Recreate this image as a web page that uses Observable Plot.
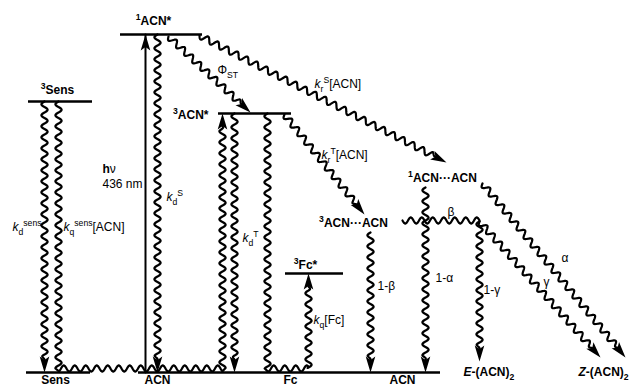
<!DOCTYPE html>
<html><head><meta charset="utf-8">
<script src="https://cdn.jsdelivr.net/npm/d3@7"></script>
<script src="https://cdn.jsdelivr.net/npm/@observablehq/plot@0.6"></script>
<style>body{margin:0;background:#fff}</style>
</head><body><div id="chart"></div>
<script>
// ---- diagram data (x position, energy level in picture units) ----
const levels = [
  {name: "1ACN*", x1: 120, x2: 202, y: 34},
  {name: "3Sens", x1: 28, x2: 92, y: 101},
  {name: "3ACN*", x1: 218, x2: 291, y: 113},
  {name: "3Fc*", x1: 285, x2: 343, y: 273},
  {name: "Sens", x1: 26, x2: 90, y: 372},
  {name: "ACN", x1: 138, x2: 440, y: 372}
];
const excitation = [
  {id: "hv", x: 145, y: 372},
  {id: "hv", x: 145, y: 34}
];
const arrowWaves = [
  {id: "kd_sens", pts: [[44, 101], [44, 372]]},
  {id: "kq_sens", pts: [[58, 101], [58, 368], [222, 368], [222, 113]]},
  {id: "kd_S", pts: [[157, 34], [157, 372]]},
  {id: "kd_T", pts: [[234, 113], [234, 372]]},
  {id: "kq_Fc", pts: [[267, 113], [267, 368], [308, 368], [308, 273]]},
  {id: "phi_ST", pts: [[168, 36], [250, 112]]},
  {id: "kr_S", pts: [[199, 35], [446, 162]]},
  {id: "kr_T", pts: [[284, 114], [364, 214]]},
  {id: "one_beta", pts: [[370, 232], [370, 372]]},
  {id: "one_alpha", pts: [[425, 187], [425, 372]]},
  {id: "one_gamma", pts: [[479, 221], [479, 361]]},
  {id: "gamma", pts: [[479, 221], [600, 357]]},
  {id: "alpha", pts: [[482, 183], [625, 357]]}
];
const plainWaves = [
  {id: "beta", pts: [[402, 220], [479, 220]]}
];
const speciesLabels = [
  {text: "^{1}ACN*", x: 153, y: 21, pos: "middle"},
  {text: "^{3}Sens", x: 57, y: 90, pos: "middle"},
  {text: "^{3}ACN*", x: 208, y: 115, pos: "end"},
  {text: "^{3}Fc*", x: 305, y: 265, pos: "middle"},
  {text: "^{3}ACN···ACN", x: 353, y: 223, pos: "middle"},
  {text: "^{1}ACN···ACN", x: 442, y: 178, pos: "middle"},
  {text: "Sens", x: 55, y: 380, pos: "middle"},
  {text: "ACN", x: 157, y: 380, pos: "middle"},
  {text: "Fc", x: 290, y: 380, pos: "middle"},
  {text: "ACN", x: 402, y: 380, pos: "middle"},
  {text: "/{E}-(ACN)_{2}", x: 463, y: 372, pos: "start"},
  {text: "/{Z}-(ACN)_{2}", x: 578, y: 372, pos: "start"}
];
const rateLabels = [
  {text: "/{k}_{d}^{sens}", x: 41, y: 227, pos: "end"},
  {text: "/{k}_{q}^{sens}[ACN]", x: 63, y: 227, pos: "start"},
  {text: "/{k}_{d}^{S}", x: 166, y: 197, pos: "start"},
  {text: "/{k}_{d}^{T}", x: 242, y: 238, pos: "start"},
  {text: "Φ_{ST}", x: 217, y: 70, pos: "start"},
  {text: "/{k}_{r}^{S}[ACN]", x: 314, y: 84, pos: "start"},
  {text: "/{k}_{r}^{T}[ACN]", x: 321, y: 155, pos: "start"},
  {text: "/{k}_{q}[Fc]", x: 313, y: 320, pos: "start"},
  {text: "1-β", x: 377, y: 286, pos: "start"},
  {text: "1-α", x: 435, y: 278, pos: "start"},
  {text: "1-γ", x: 483, y: 290, pos: "start"},
  {text: "β", x: 447, y: 212, pos: "start"},
  {text: "α", x: 561, y: 258, pos: "start"},
  {text: "γ", x: 543, y: 282, pos: "start"},
  {text: "!{h}ν", x: 102, y: 169, pos: "start"},
  {text: "436 nm", x: 102, y: 184, pos: "start"}
];

// ---- rows for the library ----
const toRows = arr => arr.flatMap(d => d.pts.map(([x, y]) => ({id: d.id, x, y})));
const arrowRows = toRows(arrowWaves);
const plainRows = toRows(plainWaves);

// ---- custom curves ----
function makeWavy({period = 11, amp = 3.1, head = 0} = {}) {
  return function(context) {
    let pts = [];
    return {
      areaStart() {}, areaEnd() {},
      lineStart() { pts = []; },
      point(x, y) { pts.push([+x, +y]); },
      lineEnd() {
        if (pts.length < 2) return;
        const segs = []; let total = 0;
        for (let i = 1; i < pts.length; i++) {
          const [x0, y0] = pts[i - 1], [x1, y1] = pts[i];
          const l = Math.hypot(x1 - x0, y1 - y0);
          if (l === 0) continue;
          segs.push({x0, y0, ux: (x1 - x0) / l, uy: (y1 - y0) / l, l, s0: total});
          total += l;
        }
        const end = total - head * 0.8;
        const step = 0.5;
        let first = true, k = 0;
        const at = s => {
          while (k < segs.length - 1 && s > segs[k].s0 + segs[k].l) k++;
          const g = segs[k], t = s - g.s0;
          const ramp = Math.max(0, Math.min(1, (end - s) / 4));
          const a = (head ? ramp : 1) * amp * Math.sin(2 * Math.PI * s / period);
          return [g.x0 + g.ux * t - g.uy * a, g.y0 + g.uy * t + g.ux * a];
        };
        for (let s = 0; s < end; s += step) {
          const [x, y] = at(s);
          if (first) { context.moveTo(x, y); first = false; } else context.lineTo(x, y);
        }
        const [x, y] = at(end);
        context.lineTo(x, y);
      }
    };
  };
}
function makeHead({len = 16, half = 4.8, notch = 3.5} = {}) {
  return function(context) {
    let pts = [];
    return {
      areaStart() {}, areaEnd() {},
      lineStart() { pts = []; },
      point(x, y) { pts.push([+x, +y]); },
      lineEnd() {
        if (pts.length < 2) return;
        const [px, py] = pts[pts.length - 1], [qx, qy] = pts[pts.length - 2];
        const l = Math.hypot(px - qx, py - qy);
        const ux = (px - qx) / l, uy = (py - qy) / l;
        const bx = px - ux * len, by = py - uy * len;
        context.moveTo(px, py);
        context.lineTo(bx - uy * half, by + ux * half);
        context.lineTo(px - ux * (len - notch), py - uy * (len - notch));
        context.lineTo(bx + uy * half, by - ux * half);
        context.closePath();
      }
    };
  };
}

const font = "'Liberation Sans', Arial, Helvetica, sans-serif";
const textMarks = (arr, opts) => ["start", "middle", "end"].map(pos =>
  Plot.text(arr.filter(d => d.pos === pos), {x: "x", y: "y", text: "text", textAnchor: pos, fill: "black", fontFamily: font, ...opts}));

const chart = Plot.plot({
  width: 636, height: 386, margin: 0,
  x: {domain: [0, 636], range: [0, 636], axis: null},
  y: {domain: [0, 386], range: [0, 386], axis: null},
  style: {background: "white", fontFamily: font},
  marks: [
    Plot.ruleY(levels, {y: "y", x1: "x1", x2: "x2", stroke: "black", strokeWidth: 2.5}),
    Plot.line(excitation, {x: "x", y: "y", z: "id", stroke: "black", strokeWidth: 2}),
    Plot.line(excitation, {x: "x", y: "y", z: "id", curve: makeHead(), fill: "black", stroke: "none"}),
    Plot.line(arrowRows, {x: "x", y: "y", z: "id", curve: makeWavy({head: 16}), stroke: "black", strokeWidth: 2.2, fill: "none"}),
    Plot.line(arrowRows, {x: "x", y: "y", z: "id", curve: makeHead(), fill: "black", stroke: "none"}),
    Plot.line(plainRows, {x: "x", y: "y", z: "id", curve: makeWavy(), stroke: "black", strokeWidth: 2.2, fill: "none"}),
    ...textMarks(speciesLabels, {fontSize: 12, fontWeight: "bold"}),
    ...textMarks(rateLabels, {fontSize: 12})
  ]
});

// ---- turn the small markup into sub/superscripts ----
const NS = "http://www.w3.org/2000/svg";
chart.querySelectorAll("text").forEach(el => {
  const s = el.textContent;
  if (!/[_^\/!]\{/.test(s)) return;
  el.textContent = "";
  const re = /([_^\/!])\{([^}]*)\}|([^_^\/!{}]+)/g;
  let m, shift = 0;
  while ((m = re.exec(s))) {
    const t = document.createElementNS(NS, "tspan");
    const kind = m[1] || "";
    t.textContent = m[2] != null ? m[2] : m[3];
    const target = kind === "_" ? 3.5 : kind === "^" ? -5 : 0;
    if (target !== shift) t.setAttribute("dy", target - shift);
    shift = target;
    if (kind === "_" || kind === "^") t.setAttribute("font-size", "72%");
    if (kind === "/") t.setAttribute("font-style", "italic");
    if (kind === "!") t.setAttribute("font-weight", "bold");
    el.appendChild(t);
  }
});
document.getElementById("chart").appendChild(chart);
</script>
</body></html>
